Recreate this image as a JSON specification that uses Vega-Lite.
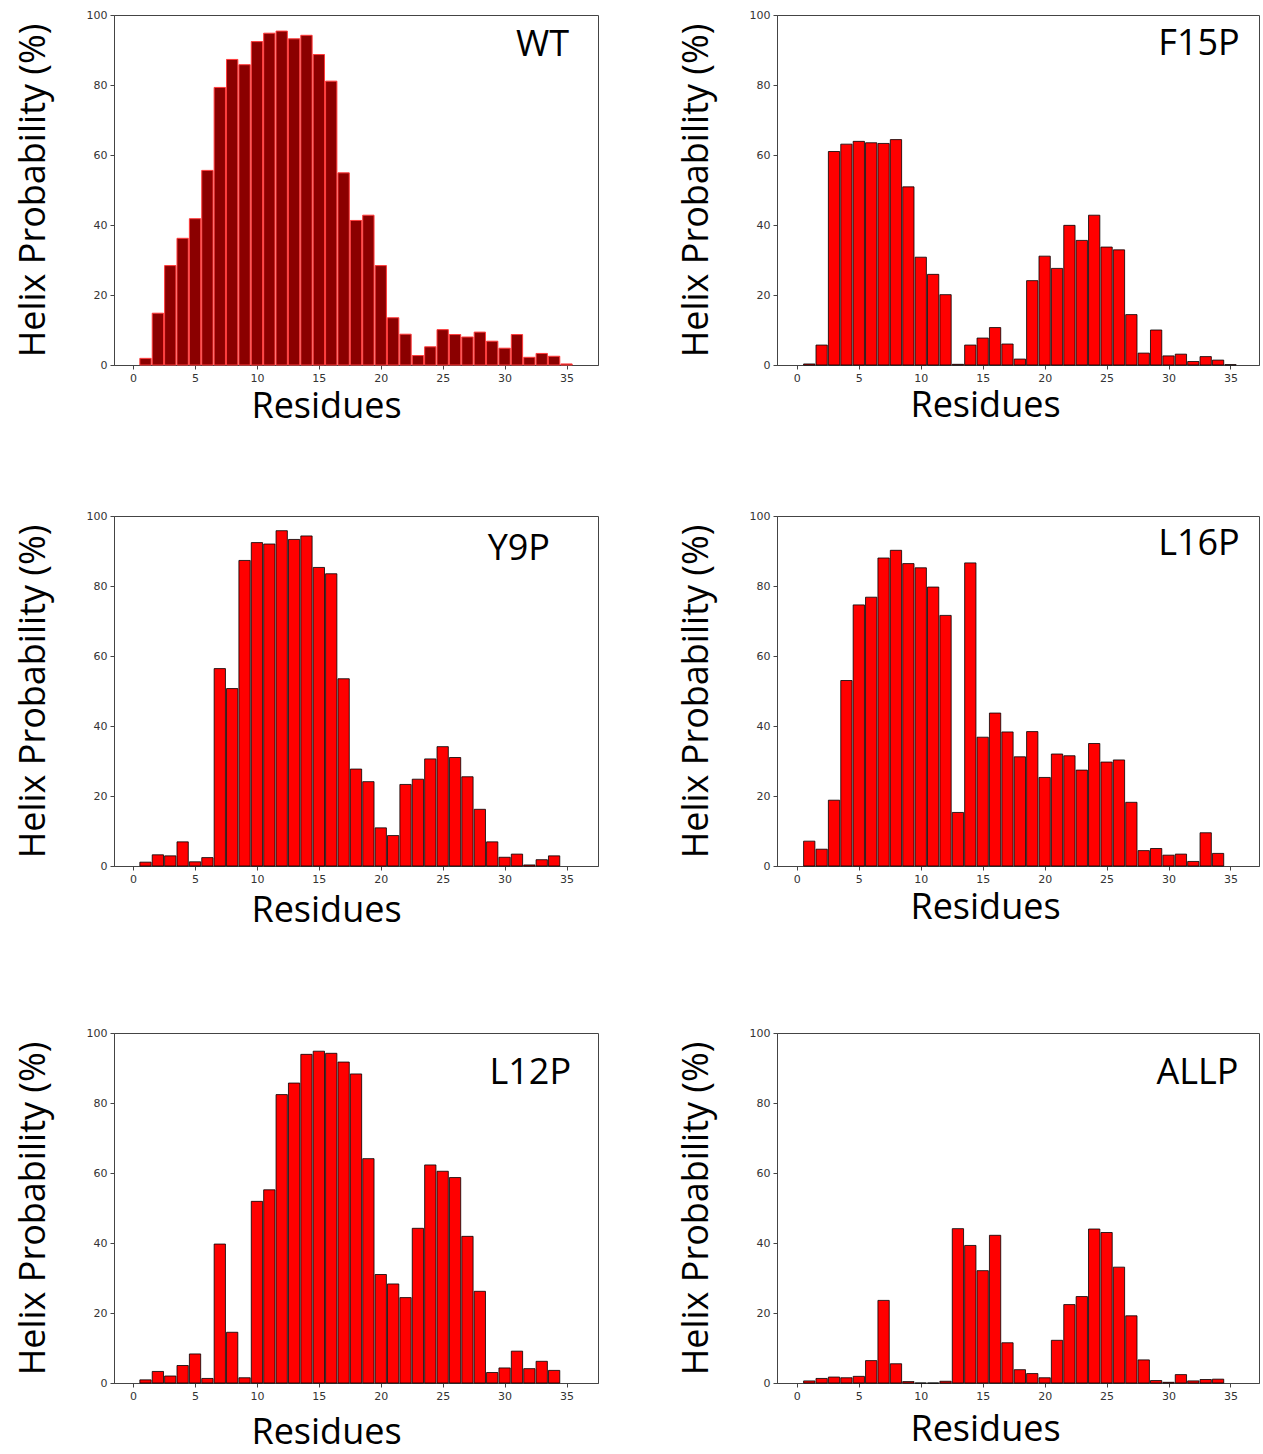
{
  "$schema": "https://vega.github.io/schema/vega-lite/v6.json",
  "background": "white",
  "padding": {"left": 14, "top": 8, "right": 0, "bottom": 0},
  "config": {
    "view": {"stroke": "#444", "strokeWidth": 1},
    "axis": {
      "grid": false,
      "labelFont": "DejaVu Sans",
      "labelFontSize": 11,
      "labelColor": "#333",
      "labelPadding": 3,
      "tickColor": "#444",
      "tickSize": 4,
      "domainColor": "#444",
      "titleFont": "Open Sans",
      "titleFontSize": 36,
      "titleFontWeight": "normal",
      "titleColor": "#000"
    },
    "axisY": {"titlePadding": 34}
  },
  "datasets": {
    "helix": [
      {"panel":"WT","residue":1,"helix":1.9},{"panel":"WT","residue":2,"helix":14.8},{"panel":"WT","residue":3,"helix":28.4},{"panel":"WT","residue":4,"helix":36.2},{"panel":"WT","residue":5,"helix":41.8},{"panel":"WT","residue":6,"helix":55.6},{"panel":"WT","residue":7,"helix":79.3},{"panel":"WT","residue":8,"helix":87.3},{"panel":"WT","residue":9,"helix":85.8},{"panel":"WT","residue":10,"helix":92.4},{"panel":"WT","residue":11,"helix":94.8},{"panel":"WT","residue":12,"helix":95.4},{"panel":"WT","residue":13,"helix":93.2},{"panel":"WT","residue":14,"helix":94.2},{"panel":"WT","residue":15,"helix":88.7},{"panel":"WT","residue":16,"helix":81.1},{"panel":"WT","residue":17,"helix":54.9},{"panel":"WT","residue":18,"helix":41.3},{"panel":"WT","residue":19,"helix":42.8},{"panel":"WT","residue":20,"helix":28.4},{"panel":"WT","residue":21,"helix":13.5},{"panel":"WT","residue":22,"helix":8.8},{"panel":"WT","residue":23,"helix":2.7},{"panel":"WT","residue":24,"helix":5.2},{"panel":"WT","residue":25,"helix":10.1},{"panel":"WT","residue":26,"helix":8.7},{"panel":"WT","residue":27,"helix":8.0},{"panel":"WT","residue":28,"helix":9.4},{"panel":"WT","residue":29,"helix":6.8},{"panel":"WT","residue":30,"helix":4.8},{"panel":"WT","residue":31,"helix":8.7},{"panel":"WT","residue":32,"helix":2.2},{"panel":"WT","residue":33,"helix":3.3},{"panel":"WT","residue":34,"helix":2.5},{"panel":"WT","residue":35,"helix":0.3},
      {"panel":"F15P","residue":1,"helix":0.3},{"panel":"F15P","residue":2,"helix":5.7},{"panel":"F15P","residue":3,"helix":61.0},{"panel":"F15P","residue":4,"helix":63.1},{"panel":"F15P","residue":5,"helix":63.9},{"panel":"F15P","residue":6,"helix":63.5},{"panel":"F15P","residue":7,"helix":63.3},{"panel":"F15P","residue":8,"helix":64.4},{"panel":"F15P","residue":9,"helix":50.9},{"panel":"F15P","residue":10,"helix":30.8},{"panel":"F15P","residue":11,"helix":25.9},{"panel":"F15P","residue":12,"helix":20.1},{"panel":"F15P","residue":13,"helix":0.2},{"panel":"F15P","residue":14,"helix":5.7},{"panel":"F15P","residue":15,"helix":7.7},{"panel":"F15P","residue":16,"helix":10.7},{"panel":"F15P","residue":17,"helix":6.0},{"panel":"F15P","residue":18,"helix":1.7},{"panel":"F15P","residue":19,"helix":24.1},{"panel":"F15P","residue":20,"helix":31.1},{"panel":"F15P","residue":21,"helix":27.6},{"panel":"F15P","residue":22,"helix":39.9},{"panel":"F15P","residue":23,"helix":35.6},{"panel":"F15P","residue":24,"helix":42.8},{"panel":"F15P","residue":25,"helix":33.7},{"panel":"F15P","residue":26,"helix":32.9},{"panel":"F15P","residue":27,"helix":14.4},{"panel":"F15P","residue":28,"helix":3.4},{"panel":"F15P","residue":29,"helix":10.0},{"panel":"F15P","residue":30,"helix":2.6},{"panel":"F15P","residue":31,"helix":3.1},{"panel":"F15P","residue":32,"helix":1.0},{"panel":"F15P","residue":33,"helix":2.4},{"panel":"F15P","residue":34,"helix":1.4},{"panel":"F15P","residue":35,"helix":0.1},
      {"panel":"Y9P","residue":1,"helix":1.1},{"panel":"Y9P","residue":2,"helix":3.2},{"panel":"Y9P","residue":3,"helix":2.9},{"panel":"Y9P","residue":4,"helix":6.9},{"panel":"Y9P","residue":5,"helix":1.2},{"panel":"Y9P","residue":6,"helix":2.4},{"panel":"Y9P","residue":7,"helix":56.4},{"panel":"Y9P","residue":8,"helix":50.7},{"panel":"Y9P","residue":9,"helix":87.3},{"panel":"Y9P","residue":10,"helix":92.4},{"panel":"Y9P","residue":11,"helix":92.0},{"panel":"Y9P","residue":12,"helix":95.8},{"panel":"Y9P","residue":13,"helix":93.3},{"panel":"Y9P","residue":14,"helix":94.3},{"panel":"Y9P","residue":15,"helix":85.3},{"panel":"Y9P","residue":16,"helix":83.5},{"panel":"Y9P","residue":17,"helix":53.5},{"panel":"Y9P","residue":18,"helix":27.7},{"panel":"Y9P","residue":19,"helix":24.1},{"panel":"Y9P","residue":20,"helix":10.9},{"panel":"Y9P","residue":21,"helix":8.7},{"panel":"Y9P","residue":22,"helix":23.3},{"panel":"Y9P","residue":23,"helix":24.8},{"panel":"Y9P","residue":24,"helix":30.6},{"panel":"Y9P","residue":25,"helix":34.1},{"panel":"Y9P","residue":26,"helix":31.0},{"panel":"Y9P","residue":27,"helix":25.5},{"panel":"Y9P","residue":28,"helix":16.2},{"panel":"Y9P","residue":29,"helix":6.9},{"panel":"Y9P","residue":30,"helix":2.5},{"panel":"Y9P","residue":31,"helix":3.4},{"panel":"Y9P","residue":32,"helix":0.3},{"panel":"Y9P","residue":33,"helix":1.8},{"panel":"Y9P","residue":34,"helix":2.9},
      {"panel":"L16P","residue":1,"helix":7.1},{"panel":"L16P","residue":2,"helix":4.8},{"panel":"L16P","residue":3,"helix":18.8},{"panel":"L16P","residue":4,"helix":53.0},{"panel":"L16P","residue":5,"helix":74.6},{"panel":"L16P","residue":6,"helix":76.8},{"panel":"L16P","residue":7,"helix":88.0},{"panel":"L16P","residue":8,"helix":90.2},{"panel":"L16P","residue":9,"helix":86.4},{"panel":"L16P","residue":10,"helix":85.2},{"panel":"L16P","residue":11,"helix":79.7},{"panel":"L16P","residue":12,"helix":71.6},{"panel":"L16P","residue":13,"helix":15.3},{"panel":"L16P","residue":14,"helix":86.6},{"panel":"L16P","residue":15,"helix":36.8},{"panel":"L16P","residue":16,"helix":43.7},{"panel":"L16P","residue":17,"helix":38.3},{"panel":"L16P","residue":18,"helix":31.2},{"panel":"L16P","residue":19,"helix":38.4},{"panel":"L16P","residue":20,"helix":25.3},{"panel":"L16P","residue":21,"helix":32.0},{"panel":"L16P","residue":22,"helix":31.5},{"panel":"L16P","residue":23,"helix":27.4},{"panel":"L16P","residue":24,"helix":35.0},{"panel":"L16P","residue":25,"helix":29.7},{"panel":"L16P","residue":26,"helix":30.3},{"panel":"L16P","residue":27,"helix":18.2},{"panel":"L16P","residue":28,"helix":4.4},{"panel":"L16P","residue":29,"helix":5.0},{"panel":"L16P","residue":30,"helix":3.1},{"panel":"L16P","residue":31,"helix":3.4},{"panel":"L16P","residue":32,"helix":1.3},{"panel":"L16P","residue":33,"helix":9.5},{"panel":"L16P","residue":34,"helix":3.6},
      {"panel":"L12P","residue":1,"helix":0.9},{"panel":"L12P","residue":2,"helix":3.3},{"panel":"L12P","residue":3,"helix":2.0},{"panel":"L12P","residue":4,"helix":5.0},{"panel":"L12P","residue":5,"helix":8.3},{"panel":"L12P","residue":6,"helix":1.3},{"panel":"L12P","residue":7,"helix":39.7},{"panel":"L12P","residue":8,"helix":14.5},{"panel":"L12P","residue":9,"helix":1.5},{"panel":"L12P","residue":10,"helix":51.9},{"panel":"L12P","residue":11,"helix":55.2},{"panel":"L12P","residue":12,"helix":82.4},{"panel":"L12P","residue":13,"helix":85.7},{"panel":"L12P","residue":14,"helix":93.9},{"panel":"L12P","residue":15,"helix":94.8},{"panel":"L12P","residue":16,"helix":94.2},{"panel":"L12P","residue":17,"helix":91.7},{"panel":"L12P","residue":18,"helix":88.3},{"panel":"L12P","residue":19,"helix":64.1},{"panel":"L12P","residue":20,"helix":31.0},{"panel":"L12P","residue":21,"helix":28.3},{"panel":"L12P","residue":22,"helix":24.4},{"panel":"L12P","residue":23,"helix":44.2},{"panel":"L12P","residue":24,"helix":62.3},{"panel":"L12P","residue":25,"helix":60.5},{"panel":"L12P","residue":26,"helix":58.7},{"panel":"L12P","residue":27,"helix":41.9},{"panel":"L12P","residue":28,"helix":26.2},{"panel":"L12P","residue":29,"helix":3.0},{"panel":"L12P","residue":30,"helix":4.3},{"panel":"L12P","residue":31,"helix":9.1},{"panel":"L12P","residue":32,"helix":4.1},{"panel":"L12P","residue":33,"helix":6.2},{"panel":"L12P","residue":34,"helix":3.6},
      {"panel":"ALLP","residue":1,"helix":0.6},{"panel":"ALLP","residue":2,"helix":1.3},{"panel":"ALLP","residue":3,"helix":1.7},{"panel":"ALLP","residue":4,"helix":1.5},{"panel":"ALLP","residue":5,"helix":1.9},{"panel":"ALLP","residue":6,"helix":6.4},{"panel":"ALLP","residue":7,"helix":23.6},{"panel":"ALLP","residue":8,"helix":5.5},{"panel":"ALLP","residue":9,"helix":0.4},{"panel":"ALLP","residue":10,"helix":0},{"panel":"ALLP","residue":11,"helix":0},{"panel":"ALLP","residue":12,"helix":0.5},{"panel":"ALLP","residue":13,"helix":44.1},{"panel":"ALLP","residue":14,"helix":39.3},{"panel":"ALLP","residue":15,"helix":32.1},{"panel":"ALLP","residue":16,"helix":42.2},{"panel":"ALLP","residue":17,"helix":11.5},{"panel":"ALLP","residue":18,"helix":3.8},{"panel":"ALLP","residue":19,"helix":2.7},{"panel":"ALLP","residue":20,"helix":1.5},{"panel":"ALLP","residue":21,"helix":12.2},{"panel":"ALLP","residue":22,"helix":22.4},{"panel":"ALLP","residue":23,"helix":24.7},{"panel":"ALLP","residue":24,"helix":44.0},{"panel":"ALLP","residue":25,"helix":43.0},{"panel":"ALLP","residue":26,"helix":33.1},{"panel":"ALLP","residue":27,"helix":19.2},{"panel":"ALLP","residue":28,"helix":6.6},{"panel":"ALLP","residue":29,"helix":0.7},{"panel":"ALLP","residue":30,"helix":0.2},{"panel":"ALLP","residue":31,"helix":2.4},{"panel":"ALLP","residue":32,"helix":0.6},{"panel":"ALLP","residue":33,"helix":1.0},{"panel":"ALLP","residue":34,"helix":1.1}
    ]
  },
  "spacing": 84,
  "vconcat": [
    {
      "spacing": 78,
      "hconcat": [
        {
          "width": 484, "height": 350,
          "layer": [
            {
              "data": {"name": "helix"},
              "transform": [{"filter": "datum.panel === 'WT'"}],
              "mark": {"type": "bar", "width": 11.3, "fill": "#8b0000", "stroke": "#ff3a3a", "strokeWidth": 1},
              "encoding": {
                "x": {"field": "residue", "type": "quantitative", "scale": {"domain": [-1.14, 37.14], "nice": false, "zero": false}, "axis": {"title": "Residues", "values": [0,5,10,15,20,25,30,35], "titleX": 212, "titlePadding": 6}},
                "y": {"field": "helix", "type": "quantitative", "scale": {"domain": [0, 100], "nice": false}, "axis": {"title": "Helix Probability (%)", "values": [0,20,40,60,80,100]}}
              }
            },
            {
              "data": {"values": [{"label": "WT"}]},
              "mark": {"type": "text", "align": "right", "baseline": "alphabetic", "font": "Open Sans", "fontSize": 36, "color": "#000"},
              "encoding": {"x": {"datum": 35.2, "type": "quantitative"}, "y": {"datum": 88.3, "type": "quantitative"}, "text": {"field": "label"}}
            }
          ]
        },
        {
          "width": 482, "height": 350,
          "layer": [
            {
              "data": {"name": "helix"},
              "transform": [{"filter": "datum.panel === 'F15P'"}],
              "mark": {"type": "bar", "width": 11.3, "fill": "#ff0000", "stroke": "#000", "strokeWidth": 0.8},
              "encoding": {
                "x": {"field": "residue", "type": "quantitative", "scale": {"domain": [-1.2, 36.9], "nice": false, "zero": false}, "axis": {"title": "Residues", "values": [0,5,10,15,20,25,30,35], "titleX": 208, "titlePadding": 5}},
                "y": {"field": "helix", "type": "quantitative", "scale": {"domain": [0, 100], "nice": false}, "axis": {"title": "Helix Probability (%)", "values": [0,20,40,60,80,100]}}
              }
            },
            {
              "data": {"values": [{"label": "F15P"}]},
              "mark": {"type": "text", "align": "right", "baseline": "alphabetic", "font": "Open Sans", "fontSize": 36, "color": "#000"},
              "encoding": {"x": {"datum": 35.75, "type": "quantitative"}, "y": {"datum": 88.6, "type": "quantitative"}, "text": {"field": "label"}}
            }
          ]
        }
      ]
    },
    {
      "spacing": 97,
      "vconcat": [
        {
          "spacing": 78,
          "hconcat": [
            {
              "width": 484, "height": 350,
              "layer": [
                {
                  "data": {"name": "helix"},
                  "transform": [{"filter": "datum.panel === 'Y9P'"}],
                  "mark": {"type": "bar", "width": 11.3, "fill": "#ff0000", "stroke": "#000", "strokeWidth": 0.8},
                  "encoding": {
                    "x": {"field": "residue", "type": "quantitative", "scale": {"domain": [-1.14, 37.14], "nice": false, "zero": false}, "axis": {"title": "Residues", "values": [0,5,10,15,20,25,30,35], "titleX": 212, "titlePadding": 9}},
                    "y": {"field": "helix", "type": "quantitative", "scale": {"domain": [0, 100], "nice": false}, "axis": {"title": "Helix Probability (%)", "values": [0,20,40,60,80,100]}}
                  }
                },
                {
                  "data": {"values": [{"label": "Y9P"}]},
                  "mark": {"type": "text", "align": "right", "baseline": "alphabetic", "font": "Open Sans", "fontSize": 36, "color": "#000"},
                  "encoding": {"x": {"datum": 33.67, "type": "quantitative"}, "y": {"datum": 87.4, "type": "quantitative"}, "text": {"field": "label"}}
                }
              ]
            },
            {
              "width": 482, "height": 350,
              "layer": [
                {
                  "data": {"name": "helix"},
                  "transform": [{"filter": "datum.panel === 'L16P'"}],
                  "mark": {"type": "bar", "width": 11.3, "fill": "#ff0000", "stroke": "#000", "strokeWidth": 0.8},
                  "encoding": {
                    "x": {"field": "residue", "type": "quantitative", "scale": {"domain": [-1.2, 36.9], "nice": false, "zero": false}, "axis": {"title": "Residues", "values": [0,5,10,15,20,25,30,35], "titleX": 208, "titlePadding": 6}},
                    "y": {"field": "helix", "type": "quantitative", "scale": {"domain": [0, 100], "nice": false}, "axis": {"title": "Helix Probability (%)", "values": [0,20,40,60,80,100]}}
                  }
                },
                {
                  "data": {"values": [{"label": "L16P"}]},
                  "mark": {"type": "text", "align": "right", "baseline": "alphabetic", "font": "Open Sans", "fontSize": 36, "color": "#000"},
                  "encoding": {"x": {"datum": 35.75, "type": "quantitative"}, "y": {"datum": 88.9, "type": "quantitative"}, "text": {"field": "label"}}
                }
              ]
            }
          ]
        },
        {
          "spacing": 78,
          "hconcat": [
            {
              "width": 484, "height": 350,
              "layer": [
                {
                  "data": {"name": "helix"},
                  "transform": [{"filter": "datum.panel === 'L12P'"}],
                  "mark": {"type": "bar", "width": 11.3, "fill": "#ff0000", "stroke": "#000", "strokeWidth": 0.8},
                  "encoding": {
                    "x": {"field": "residue", "type": "quantitative", "scale": {"domain": [-1.14, 37.14], "nice": false, "zero": false}, "axis": {"title": "Residues", "values": [0,5,10,15,20,25,30,35], "titleX": 212, "titlePadding": 14}},
                    "y": {"field": "helix", "type": "quantitative", "scale": {"domain": [0, 100], "nice": false}, "axis": {"title": "Helix Probability (%)", "values": [0,20,40,60,80,100]}}
                  }
                },
                {
                  "data": {"values": [{"label": "L12P"}]},
                  "mark": {"type": "text", "align": "right", "baseline": "alphabetic", "font": "Open Sans", "fontSize": 36, "color": "#000"},
                  "encoding": {"x": {"datum": 35.37, "type": "quantitative"}, "y": {"datum": 85.4, "type": "quantitative"}, "text": {"field": "label"}}
                }
              ]
            },
            {
              "width": 482, "height": 350,
              "layer": [
                {
                  "data": {"name": "helix"},
                  "transform": [{"filter": "datum.panel === 'ALLP'"}],
                  "mark": {"type": "bar", "width": 11.3, "fill": "#ff0000", "stroke": "#000", "strokeWidth": 0.8},
                  "encoding": {
                    "x": {"field": "residue", "type": "quantitative", "scale": {"domain": [-1.2, 36.9], "nice": false, "zero": false}, "axis": {"title": "Residues", "values": [0,5,10,15,20,25,30,35], "titleX": 208, "titlePadding": 11}},
                    "y": {"field": "helix", "type": "quantitative", "scale": {"domain": [0, 100], "nice": false}, "axis": {"title": "Helix Probability (%)", "values": [0,20,40,60,80,100]}}
                  }
                },
                {
                  "data": {"values": [{"label": "ALLP"}]},
                  "mark": {"type": "text", "align": "right", "baseline": "alphabetic", "font": "Open Sans", "fontSize": 36, "color": "#000"},
                  "encoding": {"x": {"datum": 35.65, "type": "quantitative"}, "y": {"datum": 85.4, "type": "quantitative"}, "text": {"field": "label"}}
                }
              ]
            }
          ]
        }
      ]
    }
  ]
}
